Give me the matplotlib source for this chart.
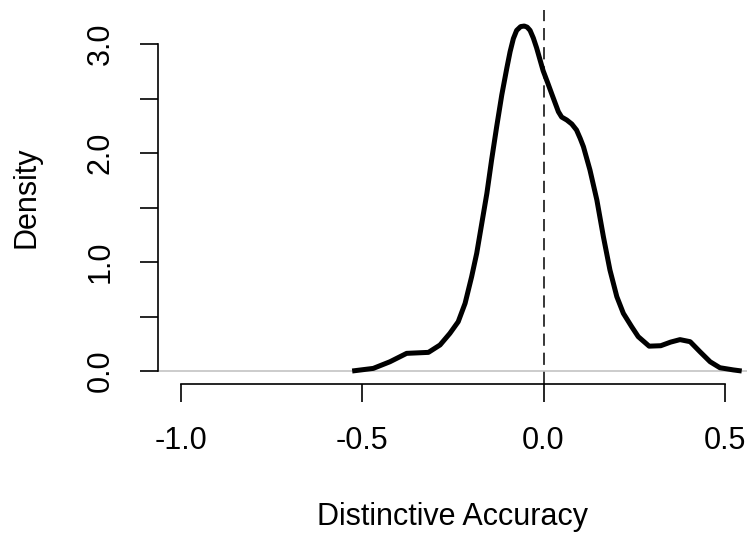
"""Kernel density of distinctive accuracy, drawn in the style of R base graphics."""

import matplotlib

matplotlib.use("Agg")
import matplotlib.pyplot as plt  # noqa: E402

# density curve (x, density)
ACC_X = [-0.527, -0.469, -0.423, -0.377, -0.317, -0.285, -0.258, -0.235,
         -0.216, -0.198, -0.184, -0.170, -0.156, -0.143, -0.129, -0.115,
         -0.101, -0.092, -0.083, -0.074, -0.063, -0.053, -0.045, -0.037,
         -0.028, -0.019, -0.010, -0.001, 0.012, 0.023, 0.041, 0.050, 0.064,
         0.078, 0.091, 0.101, 0.110, 0.128, 0.147, 0.165, 0.183, 0.202,
         0.220, 0.243, 0.261, 0.291, 0.323, 0.350, 0.376, 0.404, 0.431,
         0.459, 0.486, 0.523, 0.546]
DENSITY = [0.0, 0.024, 0.085, 0.162, 0.171, 0.239, 0.345, 0.452,
           0.621, 0.865, 1.080, 1.355, 1.630, 1.936, 2.242, 2.532,
           2.780, 2.930, 3.050, 3.125, 3.160, 3.165, 3.155, 3.125,
           3.055, 2.965, 2.860, 2.755, 2.640, 2.540, 2.379, 2.330, 2.303,
           2.266, 2.211, 2.135, 2.058, 1.844, 1.569, 1.232, 0.927, 0.682,
           0.529, 0.406, 0.315, 0.228, 0.232, 0.265, 0.288, 0.269, 0.177,
           0.085, 0.030, 0.010, 0.0]

X_TICKS = [-1.0, -0.5, 0.0, 0.5]
X_TICKLABELS = ["-1.0", "-0.5", "0.0", "0.5"]
Y_TICKS = [0.0, 0.5, 1.0, 1.5, 2.0, 2.5, 3.0]
Y_TICKLABELS = ["0.0", "", "1.0", "", "2.0", "", "3.0"]
REF_X = 0.0

plt.rcParams["font.family"] = ["Liberation Sans", "DejaVu Sans"]
FS = 22

fig = plt.figure(figsize=(7.47, 5.39), dpi=100)
ax = fig.add_axes([158 / 747, 0.287, 1 - 158 / 747, 0.9814 - 0.287])

ax.axhline(0, color="#bebebe", linewidth=1.1, zorder=1)
ax.axvline(REF_X, color="black", linewidth=1.1, dashes=(8, 4.5), zorder=2)
ax.plot(ACC_X, DENSITY, color="black", linewidth=3.6, solid_joinstyle="round",
        solid_capstyle="butt", zorder=3)

ax.set_xlim(-1.062, 0.5606)
ax.set_ylim(-0.122, 3.312)

for side in ("top", "right"):
    ax.spines[side].set_visible(False)
ax.spines["left"].set_bounds(0, 3)
ax.spines["bottom"].set_bounds(-1, 0.5)
for side in ("left", "bottom"):
    ax.spines[side].set_linewidth(1.2)

ax.set_xticks(X_TICKS)
ax.set_xticklabels(X_TICKLABELS)
ax.set_yticks(Y_TICKS)
ax.set_yticklabels(Y_TICKLABELS, rotation=90, va="center")
ax.tick_params(axis="both", direction="out", length=13.3, width=1.2,
               labelsize=FS, pad=17)

ax.set_xlabel("Distinctive Accuracy", fontsize=FS, va="top")
ax.xaxis.set_label_coords(0.5, -0.314)
ax.set_ylabel("Density", fontsize=FS)
ax.yaxis.set_label_coords(-0.197, 0.5)

fig.savefig("out.png", dpi=100)
